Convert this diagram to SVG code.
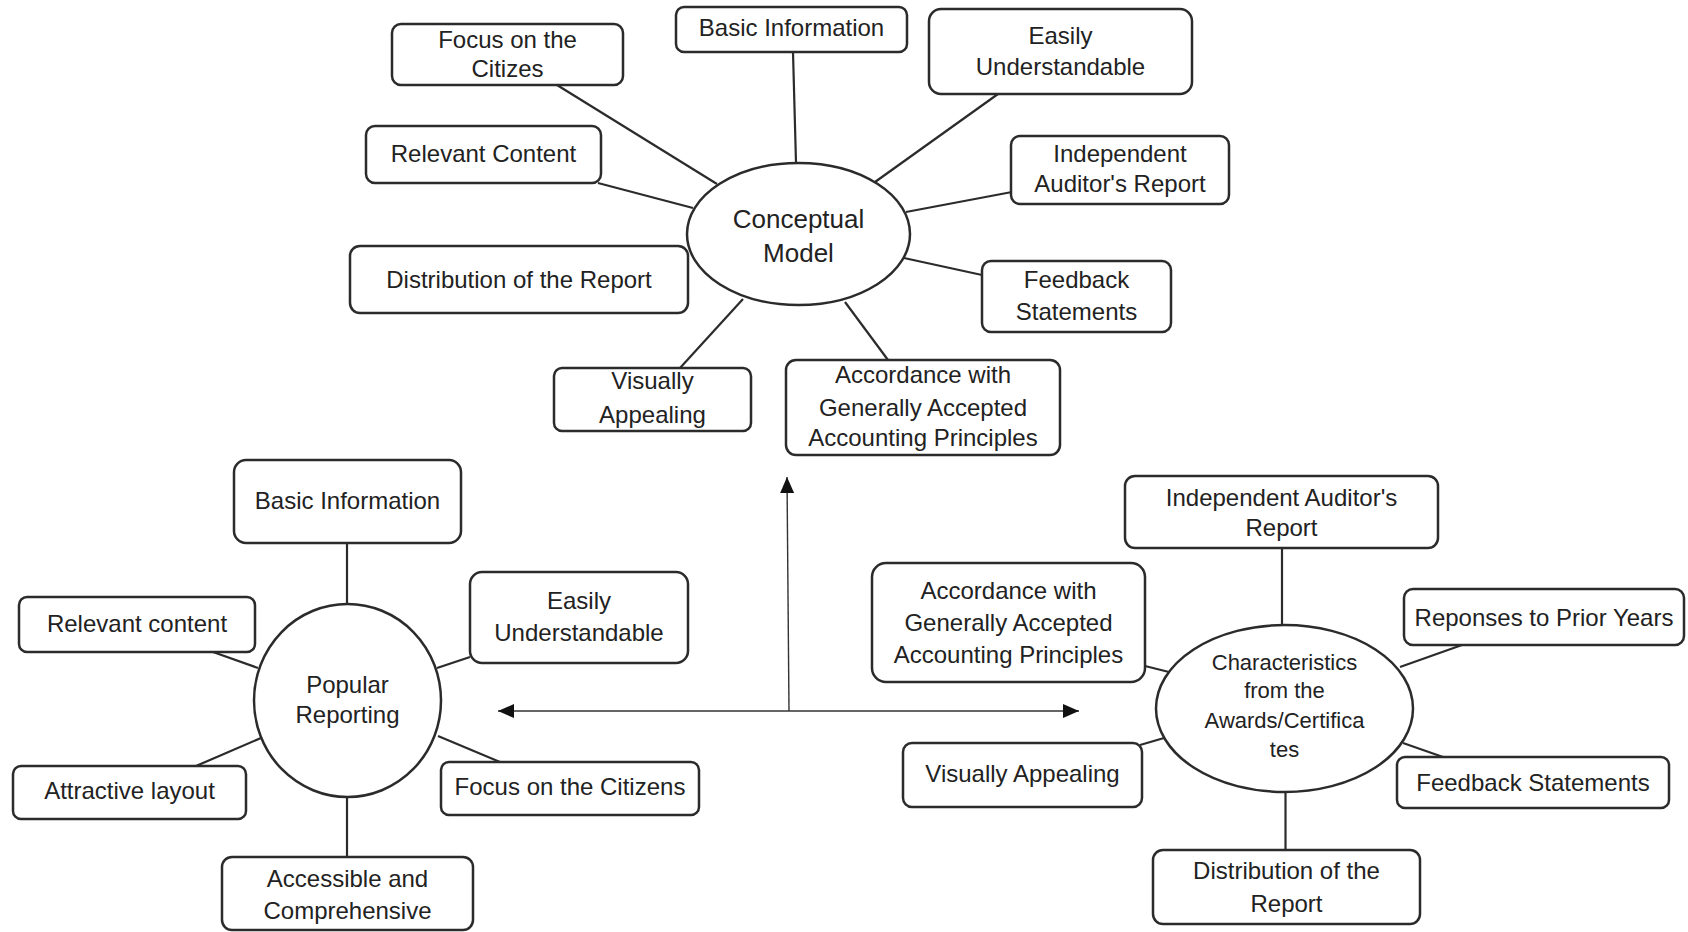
<svg xmlns="http://www.w3.org/2000/svg" width="1688" height="932" viewBox="0 0 1688 932">
<style>
.box{fill:#fff;stroke:#2b2b2b;stroke-width:2.5}
.ell{fill:#fff;stroke:#2b2b2b;stroke-width:2.5}
.ln{stroke:#2b2b2b;stroke-width:2.2;fill:none}
.ar{stroke:#333;stroke-width:1.4;fill:none}
text{font-family:"Liberation Sans",Arial,sans-serif;font-size:24px;fill:#222;text-anchor:middle}
.big{font-size:26px}
.sm{font-size:22px}
</style>
<defs>
<marker id="ah" markerUnits="userSpaceOnUse" markerWidth="18" markerHeight="14" refX="16" refY="7" orient="auto-start-reverse">
<path d="M0,0 L16,7 L0,14 z" fill="#111"/>
</marker>
</defs>
<rect width="1688" height="932" fill="#fff"/>
<g id="connectors">
<line class="ln" x1="557" y1="85" x2="717" y2="184"/>
<line class="ln" x1="598" y1="183" x2="693" y2="208"/>
<line class="ln" x1="793" y1="52" x2="796" y2="163"/>
<line class="ln" x1="998" y1="94" x2="875" y2="182"/>
<line class="ln" x1="1012" y1="192" x2="906" y2="212"/>
<line class="ln" x1="982" y1="275" x2="904" y2="258"/>
<line class="ln" x1="845" y1="302" x2="888" y2="360"/>
<line class="ln" x1="743" y1="299" x2="680" y2="368"/>
<line class="ln" x1="347" y1="543" x2="347" y2="604"/>
<line class="ln" x1="213" y1="652" x2="258" y2="668"/>
<line class="ln" x1="470" y1="657" x2="437" y2="668"/>
<line class="ln" x1="196" y1="766" x2="261" y2="738"/>
<line class="ln" x1="500" y1="762" x2="438" y2="736"/>
<line class="ln" x1="347" y1="797" x2="347" y2="857"/>
<line class="ln" x1="1282" y1="548" x2="1282" y2="625"/>
<line class="ln" x1="1145" y1="666" x2="1169" y2="672"/>
<line class="ln" x1="1462" y1="645" x2="1400" y2="667"/>
<line class="ln" x1="1140" y1="745" x2="1164" y2="738"/>
<line class="ln" x1="1443" y1="757" x2="1403" y2="743"/>
<line class="ln" x1="1285.5" y1="792" x2="1285.5" y2="850"/>
<line class="ar" x1="498" y1="711" x2="1079" y2="711" marker-start="url(#ah)" marker-end="url(#ah)"/>
<line class="ar" x1="789" y1="711" x2="787" y2="477" marker-end="url(#ah)"/>
</g>
<g id="conceptual-model"><ellipse class="ell" cx="798.5" cy="234" rx="111.5" ry="71"/><text class="big" x="798.5" y="228">Conceptual</text><text class="big" x="798.5" y="262">Model</text></g>
<g id="cm-focus"><rect class="box" x="392" y="24" width="231" height="61" rx="9"/><text x="507.5" y="48">Focus on the</text><text x="507.5" y="77">Citizes</text></g>
<g id="cm-basic"><rect class="box" x="676" y="7" width="231" height="45" rx="8"/><text x="791.5" y="36">Basic Information</text></g>
<g id="cm-easily"><rect class="box" x="929" y="9" width="263" height="85" rx="12"/><text x="1060.5" y="44">Easily</text><text x="1060.5" y="75">Understandable</text></g>
<g id="cm-relevant"><rect class="box" x="366" y="126" width="235" height="57" rx="9"/><text x="483.5" y="162">Relevant Content</text></g>
<g id="cm-auditor"><rect class="box" x="1011" y="136" width="218" height="68" rx="9"/><text x="1120" y="162">Independent</text><text x="1120" y="192">Auditor's Report</text></g>
<g id="cm-distribution"><rect class="box" x="350" y="246" width="338" height="67" rx="10"/><text x="519" y="288">Distribution of the Report</text></g>
<g id="cm-feedback"><rect class="box" x="982" y="261" width="189" height="71" rx="9"/><text x="1076.5" y="288">Feedback</text><text x="1076.5" y="320">Statements</text></g>
<g id="cm-visually"><rect class="box" x="554" y="368" width="197" height="63" rx="8"/><text x="652.5" y="389">Visually</text><text x="652.5" y="423">Appealing</text></g>
<g id="cm-accordance"><rect class="box" x="786" y="360" width="274" height="95" rx="10"/><text x="923" y="383">Accordance with</text><text x="923" y="416">Generally Accepted</text><text x="923" y="446">Accounting Principles</text></g>
<g id="popular-reporting"><ellipse class="ell" cx="347.5" cy="700.5" rx="93.5" ry="96.5"/><text x="347.5" y="693">Popular</text><text x="347.5" y="723">Reporting</text></g>
<g id="pr-basic"><rect class="box" x="234" y="460" width="227" height="83" rx="12"/><text x="347.5" y="509">Basic Information</text></g>
<g id="pr-relevant"><rect class="box" x="19" y="597" width="236" height="55" rx="8"/><text x="137" y="632">Relevant content</text></g>
<g id="pr-easily"><rect class="box" x="470" y="572" width="218" height="91" rx="12"/><text x="579" y="609">Easily</text><text x="579" y="641">Understandable</text></g>
<g id="pr-attractive"><rect class="box" x="13" y="766" width="233" height="53" rx="8"/><text x="129.5" y="799">Attractive layout</text></g>
<g id="pr-focus"><rect class="box" x="441" y="762" width="258" height="53" rx="8"/><text x="570" y="795">Focus on the Citizens</text></g>
<g id="pr-accessible"><rect class="box" x="222" y="857" width="251" height="73" rx="10"/><text x="347.5" y="887">Accessible and</text><text x="347.5" y="919">Comprehensive</text></g>
<g id="characteristics"><ellipse class="ell" cx="1284.5" cy="708.5" rx="128.5" ry="83.5"/><text class="sm" x="1284.5" y="670">Characteristics</text><text class="sm" x="1284.5" y="698">from the</text><text class="sm" x="1284.5" y="728">Awards/Certifica</text><text class="sm" x="1284.5" y="757">tes</text></g>
<g id="ch-auditor"><rect class="box" x="1125" y="476" width="313" height="72" rx="10"/><text x="1281.5" y="506">Independent Auditor's</text><text x="1281.5" y="536">Report</text></g>
<g id="ch-accordance"><rect class="box" x="872" y="563" width="273" height="119" rx="14"/><text x="1008.5" y="599">Accordance with</text><text x="1008.5" y="631">Generally Accepted</text><text x="1008.5" y="663">Accounting Principles</text></g>
<g id="ch-reponses"><rect class="box" x="1404" y="589" width="280" height="56" rx="9"/><text x="1544" y="626">Reponses to Prior Years</text></g>
<g id="ch-visually"><rect class="box" x="903" y="743" width="239" height="64" rx="9"/><text x="1022.5" y="782">Visually Appealing</text></g>
<g id="ch-feedback"><rect class="box" x="1397" y="757" width="272" height="51" rx="8"/><text x="1533" y="791">Feedback Statements</text></g>
<g id="ch-distribution"><rect class="box" x="1153" y="850" width="267" height="74" rx="10"/><text x="1286.5" y="879">Distribution of the</text><text x="1286.5" y="912">Report</text></g>
</svg>
